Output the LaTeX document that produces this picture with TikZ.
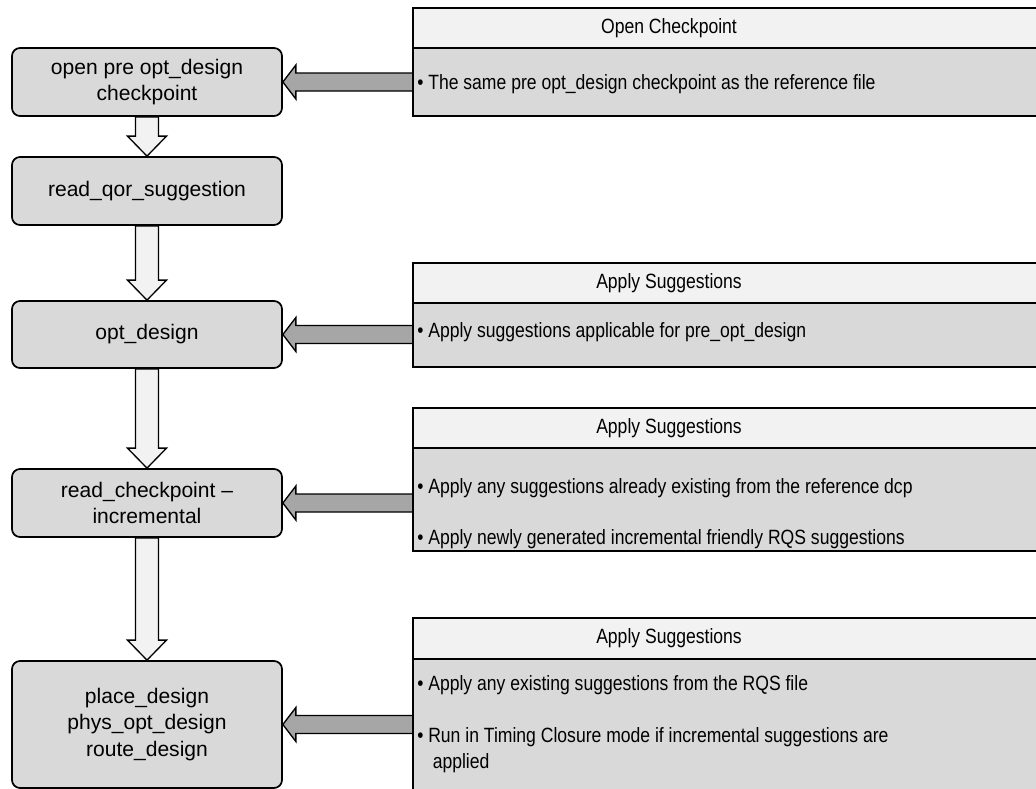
\documentclass[tikz,border=0pt]{standalone}
\usepackage{fontspec}
\setmainfont{Liberation Sans}
\newfontfamily\panelfont[FakeStretch=0.85]{Liberation Sans}
\usetikzlibrary{calc}
\definecolor{boxgray}{HTML}{D9D9D9}
\definecolor{headgray}{HTML}{F2F2F2}
\definecolor{arrgray}{HTML}{A6A6A6}
\tikzset{
  flowbox/.style={draw=black, line width=1.3pt, fill=boxgray, rounded corners=6pt,
    minimum width=202.5pt, align=center, font=\fontsize{15.8}{20}\selectfont, inner sep=0pt},
  panelhead/.style={draw=black, line width=1.3pt, fill=headgray, minimum width=485.25pt, inner sep=0pt},
  panelbody/.style={draw=black, line width=1.3pt, fill=boxgray, minimum width=485.25pt, inner sep=0pt},
  headtext/.style={font=\panelfont\fontsize{15.5}{19.5}\selectfont, inner sep=0pt},
  itemtext/.style={anchor=west, font=\panelfont\fontsize{15.5}{19.5}\selectfont, inner sep=0pt, align=left},
  hollowarrow/.style={draw=black, line width=1pt, fill=headgray, line join=miter},
  grayarrow/.style={draw=black, line width=1pt, fill=arrgray, line join=miter}
}
\newcommand\flowdown[2]{%
  \draw[hollowarrow] ($(#1.south)+(-11.5,0)$) -- ($(#2.north)+(-11.5,-20)$)
    -- ($(#2.north)+(-19.5,-20)$) -- (#2.north) -- ($(#2.north)+(19.5,-20)$)
    -- ($(#2.north)+(11.5,-20)$) -- ($(#1.south)+(11.5,0)$) -- cycle;}
\newcommand\feedleft[2]{%
  \draw[grayarrow] (#2.east) -- ($(#2.east)+(13,-17)$) -- ($(#2.east)+(13,-9)$)
    -- ($(#1.west |- #2.east)+(0,-9)$) -- ($(#1.west |- #2.east)+(0,9)$)
    -- ($(#2.east)+(13,9)$) -- ($(#2.east)+(13,17)$) -- cycle;}
\begin{document}
\begin{tikzpicture}[x=0.75pt,y=-0.75pt]
\useasboundingbox (0,0) rectangle (1036,789);
\clip (0,0) rectangle (1036,789);
\fill[white] (0,0) rectangle (1036,789);
% left flow boxes
\node[flowbox, minimum height=51pt] (b1) at (147,82) {open pre opt\_design\\checkpoint};
\node[flowbox, minimum height=51pt] (b2) at (147,191) {read\_qor\_suggestion};
\node[flowbox, minimum height=50.25pt] (b3) at (147,334.5) {opt\_design};
\node[flowbox, minimum height=51pt] (b4) at (147,503) {read\_checkpoint –\\incremental};
\node[flowbox, minimum height=95.25pt] (b5) at (147,724.5) {place\_design\\phys\_opt\_design\\route\_design};
% down arrows
\flowdown{b1}{b2}
\flowdown{b2}{b3}
\flowdown{b3}{b4}
\flowdown{b4}{b5}
% feed arrows (drawn before panels)
\coordinate (p1w) at (413,82);
\coordinate (p2w) at (413,335);
\coordinate (p3w) at (413,499);
\coordinate (p4w) at (413,739);
\feedleft{p1w}{b1}
\feedleft{p2w}{b3}
\feedleft{p3w}{b4}
\feedleft{p4w}{b5}
% panel 1
\node[panelhead, minimum height=30pt] (h1) at (736.5,28) {};
\node[panelbody, minimum height=51pt] (pb1) at (736.5,82) {};
\node[headtext] (t1) at (669,28) {Open Checkpoint};
\node[itemtext] (i1) at (417,84) {• The same pre opt\_design checkpoint as the reference file};
% panel 2
\node[panelhead, minimum height=30pt] (h2) at (736.5,283) {};
\node[panelbody, minimum height=48pt] (pb2) at (736.5,335) {};
\node[headtext] (t2) at (669,283) {Apply Suggestions};
\node[itemtext] (i2) at (417,332) {• Apply suggestions applicable for pre\_opt\_design};
% panel 3
\node[panelhead, minimum height=30pt] (h3) at (736.5,428) {};
\node[panelbody, minimum height=77.25pt] (pb3) at (736.5,499.5) {};
\node[headtext] (t3) at (669,428) {Apply Suggestions};
\node[itemtext] (i3a) at (417,488) {• Apply any suggestions already existing from the reference dcp};
\node[itemtext] (i3b) at (417,539) {• Apply newly generated incremental friendly RQS suggestions};
% panel 4
\node[panelhead, minimum height=30.75pt] (h4) at (736.5,638.5) {};
\node[panelbody, minimum height=120.75pt] (pb4) at (736.5,739.5) {};
\node[headtext] (t4) at (669,638.5) {Apply Suggestions};
\node[itemtext] (i4a) at (417,685) {• Apply any existing suggestions from the RQS file};
\node[itemtext] (i4b) at (417,750) {• Run in Timing Closure mode if incremental suggestions are\\\hspace*{0.75em}applied};
\end{tikzpicture}
\end{document}
